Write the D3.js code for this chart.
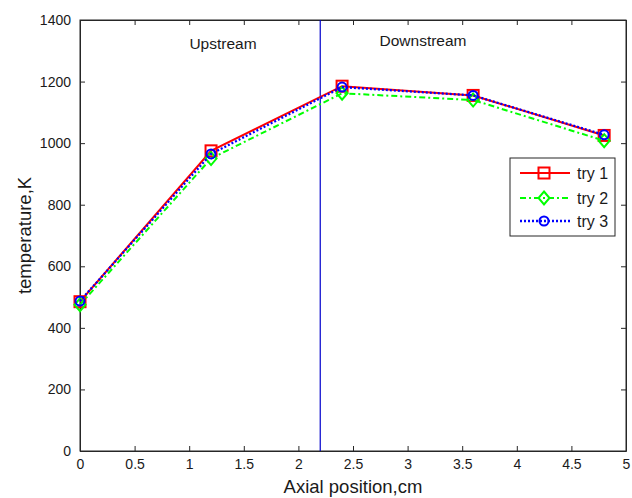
<!DOCTYPE html>
<html><head><meta charset="utf-8">
<script src="https://cdn.jsdelivr.net/npm/d3@7"></script>
<style>body{margin:0;background:#fff}svg{display:block;font-family:"Liberation Sans",Arial,sans-serif}</style>
</head><body>
<svg id="c" width="632" height="498"></svg>
<script>
const positions = [0, 1.2, 2.4, 3.6, 4.8];
const try1 = [485, 975, 1185, 1155, 1025];
const try2 = [475, 950, 1162, 1140, 1008];
const try3 = [487, 965, 1182, 1155, 1027];
const xTicks = [0, 0.5, 1, 1.5, 2, 2.5, 3, 3.5, 4, 4.5, 5];
const yTicks = [0, 200, 400, 600, 800, 1000, 1200, 1400];
const divider = 2.2;
const seriesNames = ["try 1", "try 2", "try 3"];

const svg = d3.select("#c");
const m = {l: 80, r: 626, t: 20, b: 451};
const x = d3.scaleLinear().domain([0, 5]).range([m.l, m.r]);
const y = d3.scaleLinear().domain([0, 1400]).range([m.b, m.t]);

svg.append("rect").attr("x", m.l).attr("y", m.t).attr("width", m.r - m.l).attr("height", m.b - m.t)
  .attr("fill", "none").attr("stroke", "#262626").attr("stroke-width", 1);

const fs = 14;
const xb = svg.append("g").attr("transform", `translate(0,${m.b})`)
  .call(d3.axisBottom(x).tickValues(xTicks).tickSizeInner(-5).tickSizeOuter(0).tickPadding(8).tickFormat(d3.format("")));
const xt = svg.append("g").attr("transform", `translate(0,${m.t})`)
  .call(d3.axisTop(x).tickValues(xTicks).tickSizeInner(-5).tickSizeOuter(0).tickFormat(""));
const yl = svg.append("g").attr("transform", `translate(${m.l},0)`)
  .call(d3.axisLeft(y).tickValues(yTicks).tickSizeInner(-5).tickSizeOuter(0).tickPadding(9).tickFormat(d3.format("d")));
const yr = svg.append("g").attr("transform", `translate(${m.r},0)`)
  .call(d3.axisRight(y).tickValues(yTicks).tickSizeInner(-5).tickSizeOuter(0).tickFormat(""));
[xb, xt, yl, yr].forEach(g => {
  g.select(".domain").attr("stroke", "#262626");
  g.selectAll(".tick line").attr("stroke", "#262626");
  g.selectAll("text").attr("font-size", fs).attr("fill", "#1a1a1a").attr("font-family", "Liberation Sans, Arial, sans-serif");
});

svg.append("line").attr("x1", x(divider)).attr("x2", x(divider)).attr("y1", m.t).attr("y2", m.b)
  .attr("stroke", "#0000cc").attr("stroke-width", 1.2);

svg.append("text").attr("x", 223).attr("y", 49).attr("text-anchor", "middle").attr("font-size", 15.5).attr("fill", "#1a1a1a").text("Upstream");
svg.append("text").attr("x", 423).attr("y", 46).attr("text-anchor", "middle").attr("font-size", 15.5).attr("fill", "#1a1a1a").text("Downstream");

svg.append("text").attr("x", (m.l + m.r) / 2).attr("y", 493).attr("text-anchor", "middle").attr("font-size", 18.5).attr("fill", "#1a1a1a").text("Axial position,cm");
svg.append("text").attr("transform", `translate(31,${(m.t + m.b) / 2}) rotate(-90)`).attr("text-anchor", "middle").attr("font-size", 18.5).attr("fill", "#1a1a1a").text("temperature,K");

const series = [
  {name: seriesNames[0], vals: try1, color: "#ff0000", dash: null, marker: "square", w: 2},
  {name: seriesNames[1], vals: try2, color: "#00ff00", dash: "6,3,2,3", marker: "diamond", w: 2},
  {name: seriesNames[2], vals: try3, color: "#0000ff", dash: "2,2", marker: "circle", w: 2.3}
];
const line = d3.line().x(d => x(d[0])).y(d => y(d[1]));

function drawMarker(g, type, cx, cy, color) {
  if (type === "square") {
    g.append("rect").attr("x", cx - 5.5).attr("y", cy - 5.5).attr("width", 11).attr("height", 11)
      .attr("fill", "none").attr("stroke", color).attr("stroke-width", 2);
  } else if (type === "diamond") {
    g.append("path").attr("d", `M${cx},${cy - 6.5}L${cx + 5.5},${cy}L${cx},${cy + 6.5}L${cx - 5.5},${cy}Z`)
      .attr("fill", "none").attr("stroke", color).attr("stroke-width", 2);
  } else {
    g.append("circle").attr("cx", cx).attr("cy", cy).attr("r", 4.5)
      .attr("fill", "none").attr("stroke", color).attr("stroke-width", 2);
  }
}

series.forEach(s => {
  const pts = positions.map((p, i) => [p, s.vals[i]]);
  svg.append("path").attr("d", line(pts)).attr("fill", "none").attr("stroke", s.color)
    .attr("stroke-width", s.w).attr("stroke-dasharray", s.dash);
  const g = svg.append("g");
  pts.forEach(d => drawMarker(g, s.marker, x(d[0]), y(d[1]), s.color));
});

const lg = svg.append("g");
lg.append("rect").attr("x", 510).attr("y", 158).attr("width", 105).attr("height", 78)
  .attr("fill", "#fff").attr("stroke", "#262626").attr("stroke-width", 1);
const ly = [173, 198, 221];
series.forEach((s, i) => {
  lg.append("line").attr("x1", 520).attr("x2", 570).attr("y1", ly[i]).attr("y2", ly[i])
    .attr("stroke", s.color).attr("stroke-width", s.w).attr("stroke-dasharray", s.dash);
  drawMarker(lg, s.marker, 544, ly[i], s.color);
  lg.append("text").attr("x", 577).attr("y", ly[i] + 6).attr("font-size", 16).attr("fill", "#1a1a1a").text(s.name);
});
</script>
</body></html>
